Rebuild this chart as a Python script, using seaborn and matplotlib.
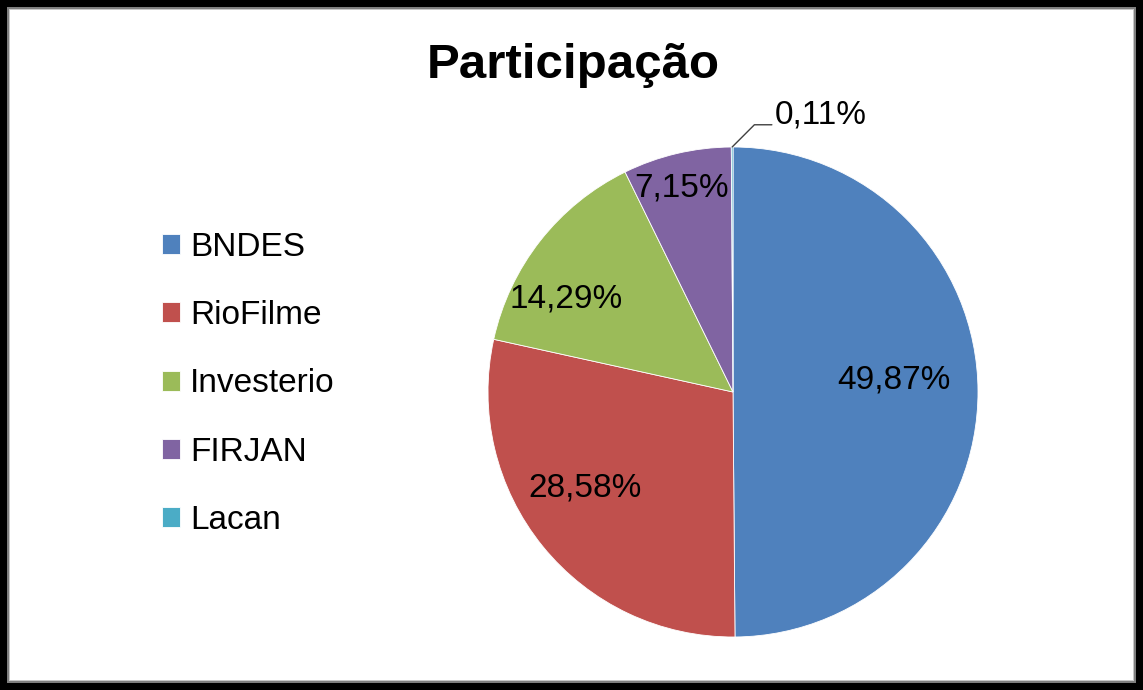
import numpy as np
import matplotlib
matplotlib.use('Agg')
import matplotlib.pyplot as plt
from matplotlib.patches import Rectangle
from matplotlib.transforms import IdentityTransform
import seaborn as sns

# data
labels = ['BNDES', 'RioFilme', 'Investerio', 'FIRJAN', 'Lacan']
shares = [49.87, 28.58, 14.29, 7.15, 0.11]
colors = ['#4F81BD', '#C0504D', '#9BBB59', '#8064A2', '#4BACC6']
title = 'Participação'

sns.set_theme(style='white')
plt.rcParams['font.family'] = ['Liberation Sans', 'DejaVu Sans']

W, H = 1143, 690
fig = plt.figure(figsize=(W / 100, H / 100), dpi=100)

# frame with shadow, drawn in pixel coordinates
for inset, col in [(0, 'black'), (7, '#7f7f7f'), (9, '#c8c8c8'), (10, 'white')]:
    fig.patches.append(Rectangle((inset, inset), W - 2 * inset, H - 2 * inset,
                                 transform=IdentityTransform(), facecolor=col,
                                 edgecolor='none', zorder=-10))

# pie axes: centre (733, 392), radius 245 px
cx, cy, r = 733, 392, 245
ax = fig.add_axes([(cx - r) / W, (H - cy - r) / H, 2 * r / W, 2 * r / H])
wedges, _ = ax.pie(shares, colors=colors, startangle=90, counterclock=False,
                   radius=1, wedgeprops=dict(edgecolor='white', linewidth=0.6))
ax.set_xlim(-1, 1)
ax.set_ylim(-1, 1)
ax.set_aspect('equal')
ax.axis('off')

# inside labels (radius fraction, angle tweak in degrees)
label_pos = [(0.66, 4), (0.72, -6), (0.78, 9), (0.86, 1)]
for w, val, (rf, dang) in zip(wedges[:4], shares[:4], label_pos):
    ang = np.deg2rad((w.theta1 + w.theta2) / 2 + dang)
    ax.text(rf * np.cos(ang), rf * np.sin(ang), f'{val:.2f}%'.replace('.', ','),
            ha='center', va='center', fontsize=24, color='black')

# tiny slice: outside label with leader line
w = wedges[4]
ang = np.deg2rad((w.theta1 + w.theta2) / 2)
ax.annotate(f'{shares[4]:.2f}%'.replace('.', ','),
            xy=(np.cos(ang), np.sin(ang)), xytext=(0.172, 1.094),
            ha='left', va='baseline', fontsize=24, color='black',
            annotation_clip=False,
            arrowprops=dict(arrowstyle='-', color='#404040', lw=1.0,
                            relpos=(0, 0.2), shrinkA=0, shrinkB=0,
                            connectionstyle='angle,angleA=180,angleB=45,rad=0'))

fig.text(573 / W, 1 - 65 / H, title, ha='center', va='center',
         fontsize=35.5, fontweight='bold', color='black')

leg = fig.legend(wedges, labels, loc='center left',
                 bbox_to_anchor=(162 / W, 1 - 384 / H), frameon=False,
                 fontsize=24, handlelength=0.55, handleheight=0.55,
                 handletextpad=0.3, labelspacing=1.12, borderpad=0,
                 borderaxespad=0)
for t in leg.get_texts():
    t.set_color('black')

fig.savefig('out.png', dpi=100)
